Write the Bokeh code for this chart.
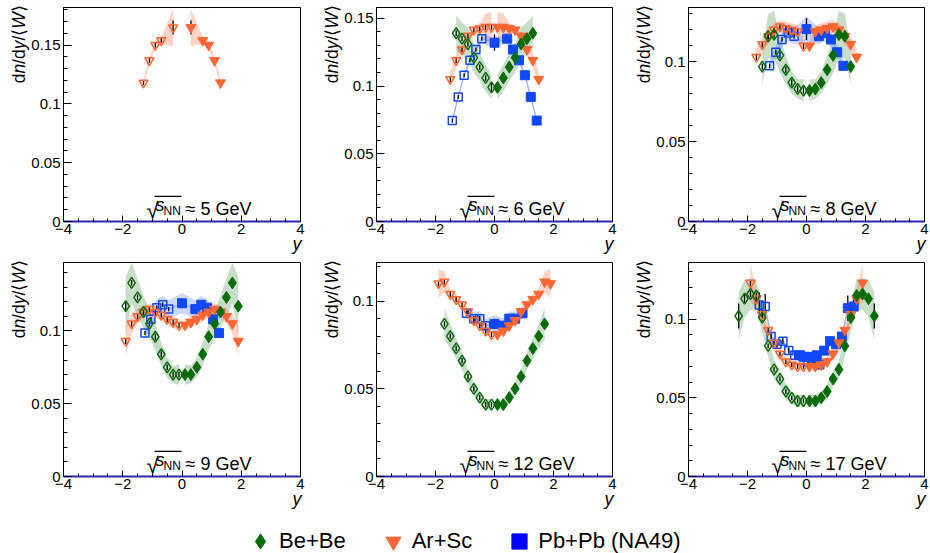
import numpy as np
from bokeh.plotting import figure
from bokeh.layouts import column, row
from bokeh.models import (Range1d, FixedTicker, CustomJSTickFormatter, Label,
                          BoxAnnotation, Legend, LegendItem)
from bokeh.embed import file_html
from bokeh.resources import INLINE

FONT = "Liberation Sans"
BASE = 0.37   # empirical baseline correction of Label text (fraction of font size)

# ---------------- panel texts / axes ----------------
energies = ["5", "6", "8", "9", "12", "17"]
y_max = [0.182, 0.158, 0.134, 0.147, 0.122, 0.136]
x_ticks = [-4, -2, 0, 2, 4]
y_ticks = [0, 0.05, 0.1, 0.15]
series_labels = ["Be+Be", "Ar+Sc", "Pb+Pb (NA49)"]

# ---------------- Be+Be (measured, y>0; mirrored points are open) ----------------
y6_be = [0.1, 0.3, 0.5, 0.7, 0.9, 1.1, 1.3]
v6_be = [0.099, 0.106, 0.114, 0.121, 0.131, 0.135, 0.139]
e6_be = [0.004, 0.002, 0.002, 0.002, 0.002, 0.002, 0.002]
s6_be = [0.009, 0.010, 0.010, 0.011, 0.012, 0.012, 0.013]

y8_be = [0.1, 0.3, 0.5, 0.7, 0.9, 1.1, 1.3, 1.5]
v8_be = [0.082, 0.083, 0.087, 0.095, 0.104, 0.117, 0.116, 0.097]
e8_be = [0.002, 0.002, 0.002, 0.002, 0.002, 0.002, 0.002, 0.002]
s8_be = [0.007, 0.006, 0.007, 0.009, 0.011, 0.015, 0.014, 0.011]

y9_be = [0.1, 0.3, 0.5, 0.7, 0.9, 1.1, 1.3, 1.5, 1.7, 1.9]
v9_be = [0.070, 0.070, 0.075, 0.084, 0.096, 0.105, 0.113, 0.123, 0.133, 0.117]
e9_be = [0.002, 0.002, 0.002, 0.002, 0.002, 0.002, 0.002, 0.002, 0.002, 0.003]
s9_be = [0.007, 0.006, 0.007, 0.008, 0.009, 0.010, 0.011, 0.013, 0.014, 0.020]

y12_be = [0.1, 0.3, 0.5, 0.7, 0.9, 1.1, 1.3, 1.5, 1.7]
v12_be = [0.041, 0.041, 0.045, 0.050, 0.057, 0.066, 0.073, 0.080, 0.087]
e12_be = [0.0015, 0.0015, 0.0015, 0.0015, 0.0015, 0.0015, 0.0015, 0.0015, 0.0015]
s12_be = [0.003, 0.003, 0.003, 0.004, 0.004, 0.005, 0.006, 0.007, 0.009]

y17_be = [0.1, 0.3, 0.5, 0.7, 0.9, 1.1, 1.3, 1.5, 1.7, 1.9, 2.1, 2.3]
v17_be = [0.048, 0.048, 0.050, 0.054, 0.062, 0.068, 0.083, 0.101, 0.115, 0.116, 0.113, 0.102]
e17_be = [0.0015, 0.0015, 0.0015, 0.0015, 0.0015, 0.0015, 0.0015, 0.002, 0.002, 0.002, 0.003, 0.008]
s17_be = [0.004, 0.004, 0.004, 0.005, 0.005, 0.006, 0.007, 0.009, 0.010, 0.010, 0.012, 0.015]

# ---------------- Ar+Sc ----------------
y5_ar = [0.3, 0.7, 0.9, 1.1, 1.3]
v5_ar = [0.165, 0.154, 0.150, 0.137, 0.118]
e5_ar = [0.006, 0.002, 0.002, 0.002, 0.002]
s5_ar = [0.016, 0.003, 0.003, 0.003, 0.003]

y6_ar = [0.1, 0.3, 0.5, 0.7, 0.9, 1.1, 1.3, 1.5]
v6_ar = [0.1435, 0.1435, 0.1425, 0.1415, 0.137, 0.127, 0.119, 0.105]
e6_ar = [0.002, 0.002, 0.002, 0.002, 0.002, 0.002, 0.002, 0.002]
s6_ar = [0.011, 0.010, 0.004, 0.003, 0.003, 0.004, 0.005, 0.005]

y8_ar = [0.1, 0.3, 0.5, 0.7, 0.9, 1.1, 1.3, 1.5, 1.7]
v8_ar = [0.110, 0.119, 0.120, 0.121, 0.122, 0.120, 0.116, 0.111, 0.103]
e8_ar = [0.002, 0.002, 0.002, 0.002, 0.002, 0.002, 0.002, 0.002, 0.002]
s8_ar = [0.004, 0.004, 0.004, 0.004, 0.004, 0.004, 0.005, 0.005, 0.005]

y9_ar = [0.1, 0.3, 0.5, 0.7, 0.9, 1.1, 1.3, 1.5, 1.7, 1.9]
v9_ar = [0.104, 0.106, 0.108, 0.111, 0.113, 0.115, 0.113, 0.110, 0.105, 0.093]
e9_ar = [0.002, 0.002, 0.002, 0.002, 0.002, 0.002, 0.002, 0.002, 0.002, 0.002]
s9_ar = [0.004, 0.004, 0.004, 0.004, 0.004, 0.004, 0.004, 0.005, 0.007, 0.010]

y12_ar = [0.1, 0.3, 0.5, 0.7, 0.9, 1.1, 1.3, 1.5, 1.7, 1.9]
v12_ar = [0.081, 0.083, 0.086, 0.089, 0.094, 0.098, 0.101, 0.104, 0.111, 0.110]
e12_ar = [0.0015, 0.0015, 0.0015, 0.0015, 0.0015, 0.0015, 0.0015, 0.0015, 0.0015, 0.0015]
s12_ar = [0.002, 0.002, 0.002, 0.002, 0.002, 0.002, 0.003, 0.003, 0.006, 0.008]

y17_ar = [0.1, 0.3, 0.5, 0.7, 0.9, 1.1, 1.3, 1.5, 1.7, 1.9]
v17_ar = [0.070, 0.070, 0.071, 0.073, 0.078, 0.085, 0.093, 0.103, 0.113, 0.123]
e17_ar = [0.0015, 0.0015, 0.0015, 0.0015, 0.0015, 0.0015, 0.0015, 0.002, 0.002, 0.002]
s17_ar = [0.003, 0.003, 0.003, 0.003, 0.003, 0.003, 0.004, 0.005, 0.006, 0.012]

# ---------------- Pb+Pb (NA49) ----------------
y6_pb = [0.0, 0.43, 0.63, 0.83, 1.03, 1.23, 1.43]
v6_pb = [0.132, 0.135, 0.127, 0.119, 0.108, 0.092, 0.0745]
e6_pb = [0.006, 0.0015, 0.0015, 0.0015, 0.0015, 0.0015, 0.0015]
s6_pb = [0.004, 0.003, 0.002, 0.002, 0.002, 0.002, 0.002]

y8_pb = [0.0, 0.42, 0.62, 0.83, 1.04, 1.25]
v8_pb = [0.1205, 0.116, 0.118, 0.114, 0.106, 0.0975]
e8_pb = [0.007, 0.0015, 0.0015, 0.0015, 0.0015, 0.0015]
s8_pb = [0.008, 0.005, 0.005, 0.005, 0.004, 0.004]

y9_pb = [0.0, 0.45, 0.65, 0.85, 1.05, 1.25]
v9_pb = [0.119, 0.115, 0.118, 0.116, 0.108, 0.0985]
e9_pb = [0.003, 0.0015, 0.0015, 0.0015, 0.0015, 0.0015]
s9_pb = [0.007, 0.006, 0.006, 0.006, 0.005, 0.004]

y12_pb = [0.0, 0.3, 0.5, 0.7, 0.95]
v12_pb = [0.087, 0.086, 0.090, 0.090, 0.093]
e12_pb = [0.003, 0.0015, 0.0015, 0.0015, 0.0015]
s12_pb = [0.005, 0.004, 0.004, 0.004, 0.003]

y17_pb = [-0.25, -0.1, 0.05, 0.2, 0.35, 0.6, 0.8, 1.0, 1.2, 1.4, 1.6]
v17_pb = [0.077, 0.076, 0.076, 0.076, 0.077, 0.080, 0.086, 0.084, 0.089, 0.107, 0.108]
e17_pb = [0.002, 0.002, 0.002, 0.002, 0.002, 0.002, 0.002, 0.002, 0.002, 0.008, 0.008]
s17_pb = [0.0015, 0.0015, 0.0015, 0.0015, 0.0015, 0.0015, 0.0015, 0.0015, 0.0015, 0.0015, 0.0015]
y17_pb_refl = [-1.6, -1.4, -1.2, -1.0, -0.8, -0.6, -0.4, -0.2, 0.05, 0.25, 0.45]
v17_pb_refl = [0.109, 0.108, 0.089, 0.084, 0.086, 0.080, 0.077, 0.077, 0.073, 0.072, 0.071]
e17_pb_refl = [0.008, 0.008, 0.002, 0.002, 0.002, 0.002, 0.002, 0.002, 0.002, 0.002, 0.002]
s17_pb_refl = [0.0015, 0.0015, 0.0015, 0.0015, 0.0015, 0.0015, 0.0015, 0.0015, 0.0015, 0.0015, 0.0015]

# ---------------- styles ----------------
styles = {
    "be": dict(color="#0b6b0b", band="#0b6b0b", band_alpha=0.22, marker="diamond", size=12),
    "ar": dict(color="#ff6633", band="#ff6633", band_alpha=0.28, marker="inverted_triangle", size=10),
    "pb": dict(color="#1048f8", band="#3366ff", band_alpha=0.25, marker="square", size=9),
}
legend_colors = {"be": "#0b6b0b", "ar": "#ff6633", "pb": "#0000ff"}

panels = [
    [("ar", y5_ar, v5_ar, e5_ar, s5_ar, None)],
    [("be", y6_be, v6_be, e6_be, s6_be, None), ("ar", y6_ar, v6_ar, e6_ar, s6_ar, None),
     ("pb", y6_pb, v6_pb, e6_pb, s6_pb, None)],
    [("be", y8_be, v8_be, e8_be, s8_be, None), ("ar", y8_ar, v8_ar, e8_ar, s8_ar, None),
     ("pb", y8_pb, v8_pb, e8_pb, s8_pb, None)],
    [("be", y9_be, v9_be, e9_be, s9_be, None), ("ar", y9_ar, v9_ar, e9_ar, s9_ar, None),
     ("pb", y9_pb, v9_pb, e9_pb, s9_pb, None)],
    [("be", y12_be, v12_be, e12_be, s12_be, None), ("ar", y12_ar, v12_ar, e12_ar, s12_ar, None),
     ("pb", y12_pb, v12_pb, e12_pb, s12_pb, None)],
    [("be", y17_be, v17_be, e17_be, s17_be, None), ("ar", y17_ar, v17_ar, e17_ar, s17_ar, None),
     ("pb", y17_pb, v17_pb, e17_pb, s17_pb,
      (y17_pb_refl, v17_pb_refl, e17_pb_refl, s17_pb_refl))],
]

# (figure width, height, box margin left, right, top, bottom) in pixels
geometry = [
    (310, 255, 63, 10, 7, 34), (310, 255, 66, 8, 7, 34), (310, 255, 68, 6, 7, 34),
    (310, 260, 63, 10, 7, 39), (310, 260, 66, 8, 7, 39), (310, 260, 68, 6, 7, 39),
]


def label(p, x, y, text, size, style="normal", angle=0.0, align="left"):
    """x, y: wanted baseline position in screen px (from bottom-left)."""
    if angle:
        x = x - BASE * size
    else:
        y = y + BASE * size
    p.add_layout(Label(x=x, y=y, x_units="screen", y_units="screen", text=text,
                       angle=angle, text_font=FONT, text_font_size=f"{size}px",
                       text_font_style=style, text_align=align,
                       text_baseline="alphabetic", text_color="black"))


def make_panel(i):
    w, h, bl, br, bt, bb = geometry[i]
    fw, fh = w - bl - br, h - bt - bb
    ymax = y_max[i]
    kx, ky = 8.0 / fw, ymax / fh
    p = figure(width=w, height=h,
               x_range=Range1d(-4 - bl * kx, 4 + br * kx),
               y_range=Range1d(-bb * ky, ymax + bt * ky),
               toolbar_location=None, output_backend="svg", min_border=0)
    p.xgrid.visible = False
    p.ygrid.visible = False
    p.outline_line_color = None

    xa, ya = p.xaxis[0], p.yaxis[0]
    xa.fixed_location = 0
    xa.bounds = (-4, 4)
    ya.fixed_location = -4
    ya.bounds = (0, ymax)
    xa.ticker = FixedTicker(ticks=x_ticks, minor_ticks=[-4 + 0.5 * k for k in range(17)])
    ya.ticker = FixedTicker(ticks=[t for t in y_ticks if t <= ymax],
                            minor_ticks=[0.01 * k for k in range(19) if 0.01 * k <= ymax])
    xa.formatter = CustomJSTickFormatter(
        code="return (Math.round(tick*100)/100).toString().replace('-', '\u2212');")
    ya.formatter = CustomJSTickFormatter(
        code="return (Math.round(tick*1000)/1000).toString();")
    for ax in (xa, ya):
        ax.major_tick_out = 0
        ax.minor_tick_out = 0
        ax.major_label_text_font = FONT
        ax.major_label_text_font_size = "15px"
        ax.major_label_text_color = "black"
        ax.major_tick_line_color = "black"
        ax.minor_tick_line_color = "black"
    ya.major_tick_in = 8
    ya.minor_tick_in = 4
    ya.major_label_standoff = 3
    ya.axis_line_color = "black"
    xa.major_tick_in = 6
    xa.minor_tick_in = 3
    xa.major_label_standoff = 2
    xa.axis_line_color = "#2b2ba6"
    xa.axis_line_width = 2

    # panel box (top and right edges)
    p.add_layout(BoxAnnotation(left=-4, right=4, bottom=0, top=ymax, fill_color=None,
                               fill_alpha=0, line_color="black", line_alpha=1,
                               line_width=1, level="underlay"))

    prepared = []
    for key, y, v, e, s, refl in panels[i]:
        y, v, e, s = (np.asarray(a, float) for a in (y, v, e, s))
        if refl is None:
            m = y > 0
            oy, ov, oe, os_ = -y[m], v[m], e[m], s[m]
        else:
            oy, ov, oe, os_ = (np.asarray(a, float) for a in refl)
        prepared.append((key, (y, v, e, s), (oy, ov, oe, os_)))

    # systematic bands (clipped at the panel top)
    for key, (y, v, e, s), (oy, ov, oe, os_) in prepared:
        st = styles[key]
        c = y == 0
        left = (np.concatenate([oy, y[c]]), np.concatenate([ov, v[c]]), np.concatenate([os_, s[c]]))
        for bx, bv, bs in (left, (y, v, s)):
            o = np.argsort(bx)
            bx, bv, bs = bx[o], bv[o], bs[o]
            up = np.minimum(bv + bs, ymax)
            lo = np.maximum(bv - bs, 0)
            p.patch(np.concatenate([bx, bx[::-1]]), np.concatenate([up, lo[::-1]]),
                    fill_color=st["band"], fill_alpha=st["band_alpha"], line_color=None)
            if key == "pb":
                p.line(bx, bv, line_color="#8ea6ff", line_width=1)

    # statistical error bars
    for key, (y, v, e, s), (oy, ov, oe, os_) in prepared:
        p.segment(x0=np.concatenate([y, oy]), y0=np.concatenate([v - e, ov - oe]),
                  x1=np.concatenate([y, oy]), y1=np.concatenate([v + e, ov + oe]),
                  line_color="black", line_width=1.3)

    # markers
    order = {"pb": 0, "ar": 1, "be": 2}
    for key, (y, v, e, s), (oy, ov, oe, os_) in sorted(prepared, key=lambda t: order[t[0]]):
        st = styles[key]
        p.scatter(oy, ov, marker=st["marker"], size=st["size"] - 1, fill_alpha=0,
                  line_color=st["color"], line_width=1.5)
        p.scatter(y, v, marker=st["marker"], size=st["size"], fill_color=st["color"],
                  line_color=st["color"])

    # y-axis title  dn/dy/<W>  (top aligned, rotated)
    fs = 17.5
    pieces = [("d", "normal", 0.556), ("n", "italic", 0.556), ("/d", "normal", 0.834),
              ("y", "italic", 0.500), ("/", "normal", 0.278), ("\u27e8", "normal", 0.39),
              ("W", "italic", 0.944), ("\u27e9", "normal", 0.39)]
    pos = bb + fh + 2 - sum(pw for _, _, pw in pieces) * fs
    for txt, sty, pw in pieces:
        label(p, bl - 38, pos, txt, fs, sty, angle=np.pi / 2)
        pos += pw * fs
    # x-axis title
    label(p, bl + fw + 1, bb - 29, "y", 18, "italic", align="right")

    # energy label  sqrt(s_NN) ~ E GeV
    label(p, bl + 83, bb + 3, "\u221a", 22)
    p.add_layout(BoxAnnotation(left=bl + 91, right=bl + 118, bottom=bb + 24.6, top=bb + 25.8,
                               left_units="screen", right_units="screen",
                               bottom_units="screen", top_units="screen",
                               fill_color="black", fill_alpha=1, line_color=None))
    label(p, bl + 92, bb + 10, "s", 18, "italic")
    label(p, bl + 100, bb + 6, "NN", 12)
    label(p, bl + 122, bb + 6, "\u2248 " + energies[i] + " GeV", 18)
    return p


figs = [make_panel(i) for i in range(6)]

# legend strip
pl = figure(width=930, height=38, x_range=Range1d(0, 1), y_range=Range1d(0, 1),
            toolbar_location=None, output_backend="svg", min_border=0)
pl.xaxis.visible = False
pl.yaxis.visible = False
pl.xgrid.visible = False
pl.ygrid.visible = False
pl.outline_line_color = None
items = []
for key, lab in zip(["be", "ar", "pb"], series_labels):
    st = styles[key]
    r = pl.scatter(x=[5], y=[5], marker=st["marker"], size=15,
                   fill_color=legend_colors[key], line_color=legend_colors[key])
    items.append(LegendItem(label=lab, renderers=[r]))
leg = Legend(items=items, orientation="horizontal", location=(241, -7),
             glyph_width=38, glyph_height=38, label_standoff=0, spacing=28,
             padding=0, margin=0, border_line_color=None, background_fill_alpha=0,
             label_text_font=FONT, label_text_font_size="22px", label_text_color="black")
pl.add_layout(leg)

layout = column(row(*figs[:3]), row(*figs[3:]), pl)
open("out.html", "w").write(file_html(layout, INLINE))
